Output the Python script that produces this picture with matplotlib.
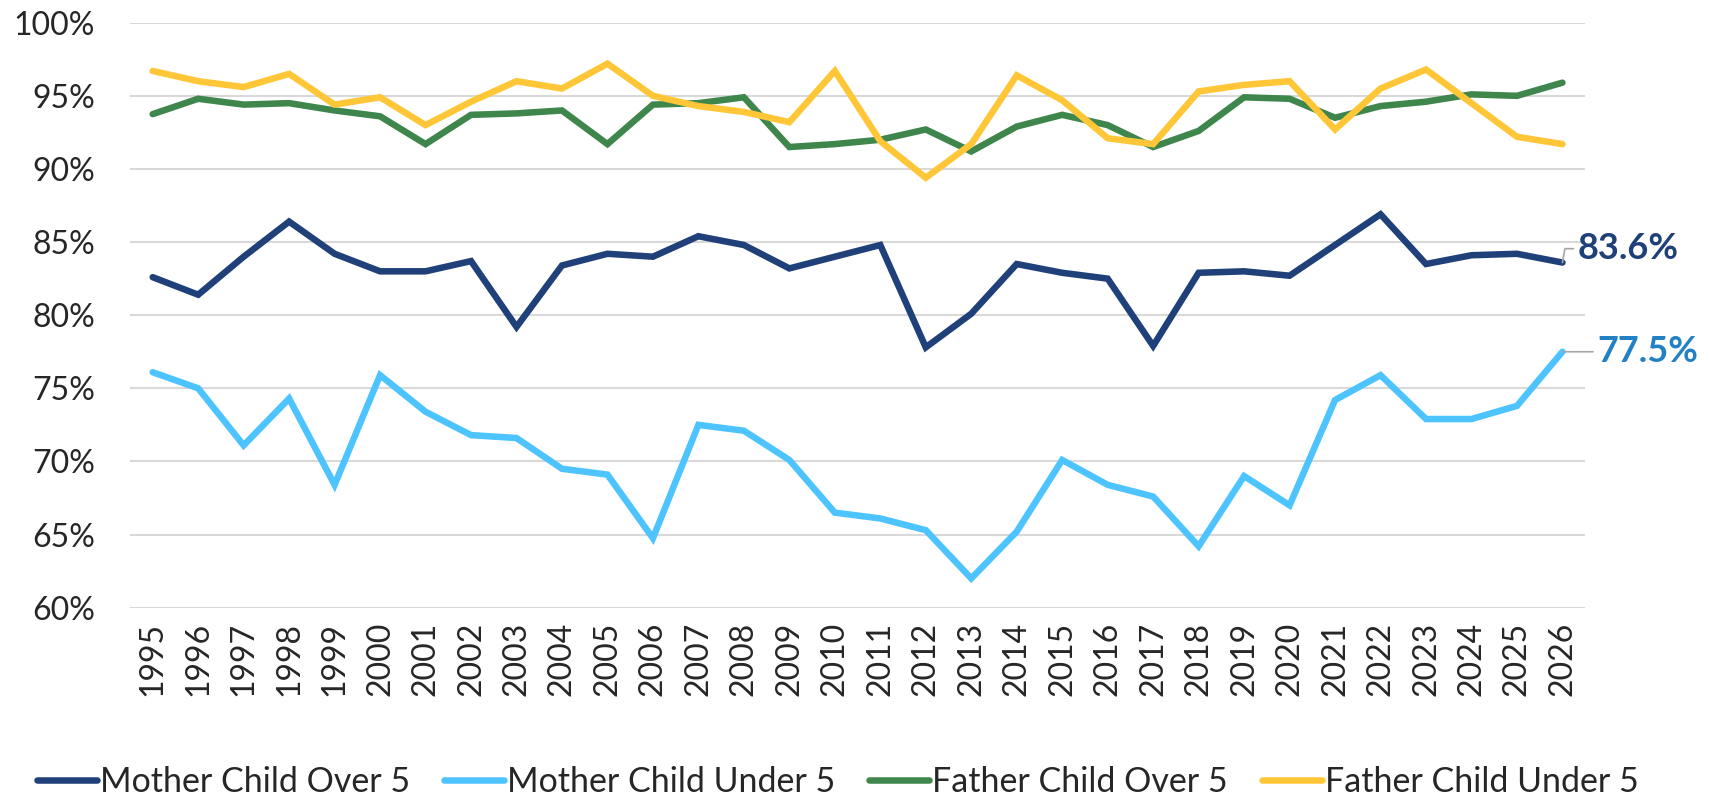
import matplotlib
matplotlib.use("Agg")
import matplotlib.pyplot as plt

plt.rcParams["font.family"] = ["Lato", "DejaVu Sans"]

years = [str(y) for y in range(1995, 2027)]

mother_over5 = [82.6, 81.4, 84.0, 86.4, 84.2, 83.0, 83.0, 83.7, 79.2, 83.4,
                84.2, 84.0, 85.4, 84.8, 83.2, 84.0, 84.8, 77.8, 80.1, 83.5,
                82.9, 82.5, 77.9, 82.9, 83.0, 82.7, 84.8, 86.9, 83.5, 84.1,
                84.2, 83.6]
mother_under5 = [76.1, 75.0, 71.1, 74.3, 68.4, 75.9, 73.4, 71.8, 71.6, 69.5,
                 69.1, 64.75, 72.5, 72.1, 70.1, 66.5, 66.1, 65.3, 62.0, 65.2,
                 70.1, 68.4, 67.6, 64.2, 69.0, 67.0, 74.2, 75.9, 72.9, 72.9,
                 73.8, 77.5]
father_over5 = [93.75, 94.8, 94.4, 94.5, 94.0, 93.6, 91.7, 93.7, 93.8, 94.0,
                91.7, 94.4, 94.5, 94.9, 91.5, 91.7, 92.0, 92.7, 91.2, 92.9,
                93.7, 93.0, 91.5, 92.6, 94.9, 94.8, 93.5, 94.3, 94.6, 95.1,
                95.0, 95.9]
father_under5 = [96.7, 96.0, 95.6, 96.5, 94.4, 94.9, 93.0, 94.6, 96.0, 95.5,
                 97.2, 95.0, 94.3, 93.9, 93.2, 96.7, 91.9, 89.4, 91.7, 96.4,
                 94.7, 92.1, 91.7, 95.3, 95.75, 96.0, 92.7, 95.5, 96.8, 94.5,
                 92.2, 91.7]

series = [
    ("Mother Child Over 5", mother_over5, "#1F4079"),
    ("Mother Child Under 5", mother_under5, "#4DC4FF"),
    ("Father Child Over 5", father_over5, "#3E864C"),
    ("Father Child Under 5", father_under5, "#FFC638"),
]

fig = plt.figure(figsize=(17.1, 8), dpi=100)
ax = fig.add_axes([0.076, 0.2404, 0.851, 0.7312])

x = list(range(len(years)))
for name, vals, color in series:
    ax.plot(x, vals, color=color, lw=4.7, label=name, solid_joinstyle="miter",
            solid_capstyle="round")

ax.set_xlim(-0.5, len(years) - 0.5)
ax.set_ylim(60, 100)
ax.set_yticks(range(60, 101, 5))
ax.set_yticklabels([f"{v}%" for v in range(60, 101, 5)])
ax.set_xticks(x)
ax.set_xticklabels(years, rotation=90)
ax.tick_params(axis="both", length=0, labelsize=23, colors="#262626")
ax.tick_params(axis="y", pad=25)
ax.tick_params(axis="x", pad=10)
ax.grid(axis="y", color="#D9D9D9", lw=1.5)
ax.set_axisbelow(True)
for s in ax.spines.values():
    s.set_visible(False)

# end-of-line labels
ax.annotate(f"{mother_over5[-1]:.1f}%", xy=(x[-1], mother_over5[-1]),
            xytext=(11, 10), textcoords="offset points",
            fontsize=26, fontweight="bold", color="#1F4079", va="center",
            arrowprops=dict(arrowstyle="-", color="#A6A6A6", lw=1.2,
                            shrinkA=1, shrinkB=0, relpos=(0, 0.5),
                            connectionstyle="angle,angleA=0,angleB=80,rad=0"))
ax.annotate(f"{mother_under5[-1]:.1f}%", xy=(x[-1], mother_under5[-1]),
            xytext=(25, 0), textcoords="offset points",
            fontsize=26, fontweight="bold", color="#2280C4", va="center",
            arrowprops=dict(arrowstyle="-", color="#A6A6A6", lw=1.2,
                            shrinkA=1, shrinkB=0, relpos=(0, 0.5)))

fig.legend(loc="center", bbox_to_anchor=(0.49, 0.022), ncol=4, frameon=False,
           fontsize=24.5, handlelength=1.75, handletextpad=0.1, columnspacing=1.0,
           labelcolor="#262626")

fig.savefig("out.png", dpi=100)
